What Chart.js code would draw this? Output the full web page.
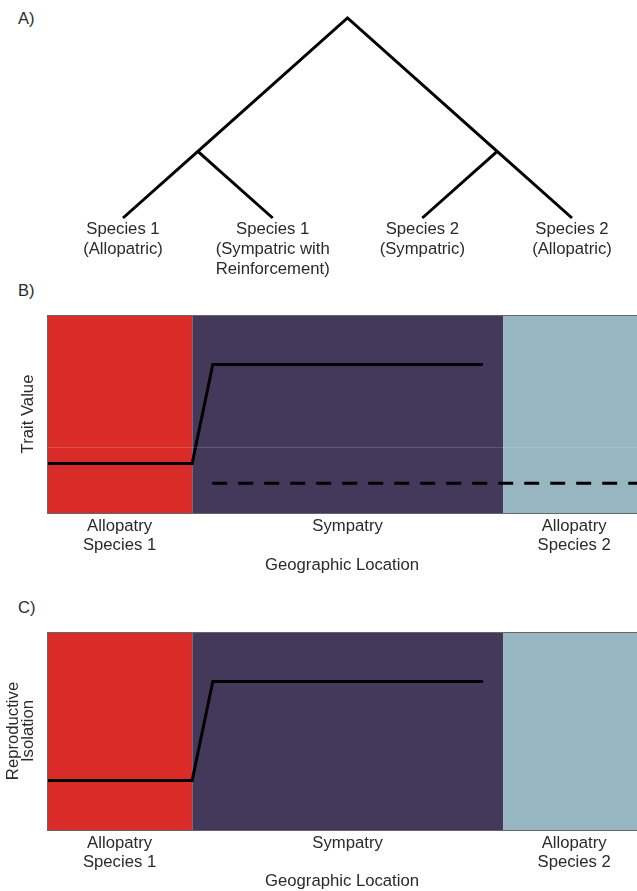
<!DOCTYPE html>
<html>
<head>
<meta charset="utf-8">
<script src="https://cdn.jsdelivr.net/npm/chart.js@4.4.1/dist/chart.umd.min.js"></script>
<style>
  body { margin: 0; background: #fff; width: 637px; height: 891px; position: relative; overflow: hidden; }
  canvas { position: absolute; left: 0; }
  .tag { position: absolute; left: 18px; font: 16.5px "Liberation Sans", Arial, sans-serif; color: #2a2a2a; }
</style>
</head>
<body>
<div class="tag" style="top:9px">A)</div>
<div class="tag" style="top:281px">B)</div>
<div class="tag" style="top:598px">C)</div>
<canvas id="treeChart" width="637" height="285" style="top:0"></canvas>
<canvas id="traitChart" width="637" height="275" style="top:300px"></canvas>
<canvas id="isoChart" width="637" height="276" style="top:615px"></canvas>
<script>
// panel A: tree
const leafX = [1, 2, 3, 4];
const leafHeight = 0;
const cladeHeight = 1;
const rootHeight = 3;
const leafLabels = [
  ["Species 1", "(Allopatric)"],
  ["Species 1", "(Sympatric with", "Reinforcement)"],
  ["Species 2", "(Sympatric)"],
  ["Species 2", "(Allopatric)"]
];

// panels B and C: geography (0-100 across the visible plot)
const regionEdges = [0, 24.6, 77.3, 101.4];
const regionLabels = [["Allopatry", "Species 1"], ["Sympatry"], ["Allopatry", "Species 2"]];
const regionColors = ["#d92c28", "#44385b", "#97b6c2"];
const locX = [0, 24.6, 28.1, 73.9];
const traitSolid = [2.5, 2.5, 7.5, 7.5];
const traitDashedX = [28.0, 101.4];
const traitDashed = [1.5, 1.5];
const traitGrid = [3.3];
const isolation = [2.5, 2.5, 7.5, 7.5];

const FONT = '"Liberation Sans", Arial, sans-serif';
const TEXT = "#2a2a2a";
const SIZE = 16.7;

const pts = (xs, ys) => xs.map((x, i) => ({ x, y: ys[i] }));

// tree nodes
const leaves = leafX.map(x => ({ x, y: leafHeight }));
const nodeL = { x: (leafX[0] + leafX[1]) / 2, y: cladeHeight };
const nodeR = { x: (leafX[2] + leafX[3]) / 2, y: cladeHeight };
const root = { x: (nodeL.x + nodeR.x) / 2, y: rootHeight };

const branch = data => ({
  data, showLine: true, borderColor: "#000", borderWidth: 3,
  pointRadius: 0, borderJoinStyle: "miter", borderCapStyle: "butt", clip: false
});

const leafText = {
  id: "leafText",
  afterDraw(chart) {
    const { ctx, scales: { x, y } } = chart;
    ctx.save();
    ctx.font = SIZE + "px " + FONT;
    ctx.fillStyle = TEXT;
    ctx.textAlign = "center";
    ctx.textBaseline = "middle";
    leafX.forEach((v, i) => {
      const px = x.getPixelForValue(v);
      const py = y.getPixelForValue(leafHeight);
      leafLabels[i].forEach((t, k) => ctx.fillText(t, px, py + 11 + k * 20));
    });
    ctx.restore();
  }
};

new Chart(document.getElementById("treeChart"), {
  type: "scatter",
  data: {
    datasets: [
      branch([leaves[0], nodeL, root, nodeR, leaves[3]]),
      branch([nodeL, leaves[1]]),
      branch([nodeR, leaves[2]])
    ]
  },
  options: {
    responsive: false,
    animation: false,
    layout: { padding: { left: 123, right: 65, top: 18, bottom: 67 } },
    plugins: { legend: { display: false }, tooltip: { enabled: false } },
    scales: {
      x: { type: "linear", min: 1, max: 4, display: false },
      y: { type: "linear", min: 0, max: 3, display: false }
    }
  },
  plugins: [leafText]
});

const frame = {
  id: "frame",
  afterDraw(chart) {
    const { ctx, chartArea: a } = chart;
    ctx.save();
    ctx.strokeStyle = "#666";
    ctx.lineWidth = 1;
    ctx.strokeRect(a.left + 0.5, a.top + 0.5, a.right - a.left + 10, a.bottom - a.top);
    ctx.restore();
  }
};

function regionSets() {
  return regionColors.map((c, i) => ({
    data: [{ x: regionEdges[i], y: 10 }, { x: regionEdges[i + 1], y: 10 }],
    showLine: true, fill: "start", backgroundColor: c, borderWidth: 0,
    pointRadius: 0, order: 1
  }));
}

function geoChart(id, lines, yTitle, gridVals, yTitlePad, yLineHeight, xHeight, top) {
  const centers = regionLabels.map((_, i) => (regionEdges[i] + regionEdges[i + 1]) / 2);
  return new Chart(document.getElementById(id), {
    type: "scatter",
    data: { datasets: lines.concat(regionSets()) },
    options: {
      responsive: false,
      animation: false,
      layout: { padding: { top, right: 0 } },
      plugins: { legend: { display: false }, tooltip: { enabled: false } },
      scales: {
        x: {
          type: "linear", min: 0, max: 100,
          grid: { display: false, drawTicks: false },
          border: { display: false },
          afterBuildTicks: s => { s.ticks = centers.map(v => ({ value: v })); },
          afterFit: s => { s.height = xHeight; },
          ticks: {
            autoSkip: false, maxRotation: 0, padding: 4, color: TEXT,
            font: { family: FONT, size: SIZE, lineHeight: 1.15 },
            callback: (v, i) => regionLabels[i]
          },
          title: {
            display: true, text: "Geographic Location", color: TEXT,
            font: { family: FONT, size: SIZE, lineHeight: 1.2 },
            padding: { top: 0, bottom: 0 }
          }
        },
        y: {
          type: "linear", min: 0, max: 10,
          afterBuildTicks: s => { s.ticks = gridVals.map(v => ({ value: v })); },
          afterFit: s => { s.width = 47; },
          ticks: { display: false },
          grid: { display: true, color: "rgba(255,255,255,0.17)", lineWidth: 1, drawTicks: false, z: 1 },
          border: { display: false },
          title: {
            display: true, text: yTitle, color: TEXT,
            font: { family: FONT, size: SIZE, lineHeight: yLineHeight },
            padding: { top: yTitlePad, bottom: 0 }
          }
        }
      }
    },
    plugins: [frame]
  });
}

const solid = ys => ({
  data: pts(locX, ys), showLine: true, borderColor: "#000", borderWidth: 3,
  pointRadius: 0, borderJoinStyle: "miter", order: 0
});

geoChart("traitChart", [
  solid(traitSolid),
  { data: pts(traitDashedX, traitDashed), showLine: true, borderColor: "#000", borderWidth: 3,
    borderDash: [15, 11], pointRadius: 0, order: 0 }
], "Trait Value", traitGrid, 18, 1.2, 62, 15);

geoChart("isoChart", [solid(isolation)], ["Reproductive", "Isolation"], [], 5, 0.95, 61, 17);
</script>
</body>
</html>
